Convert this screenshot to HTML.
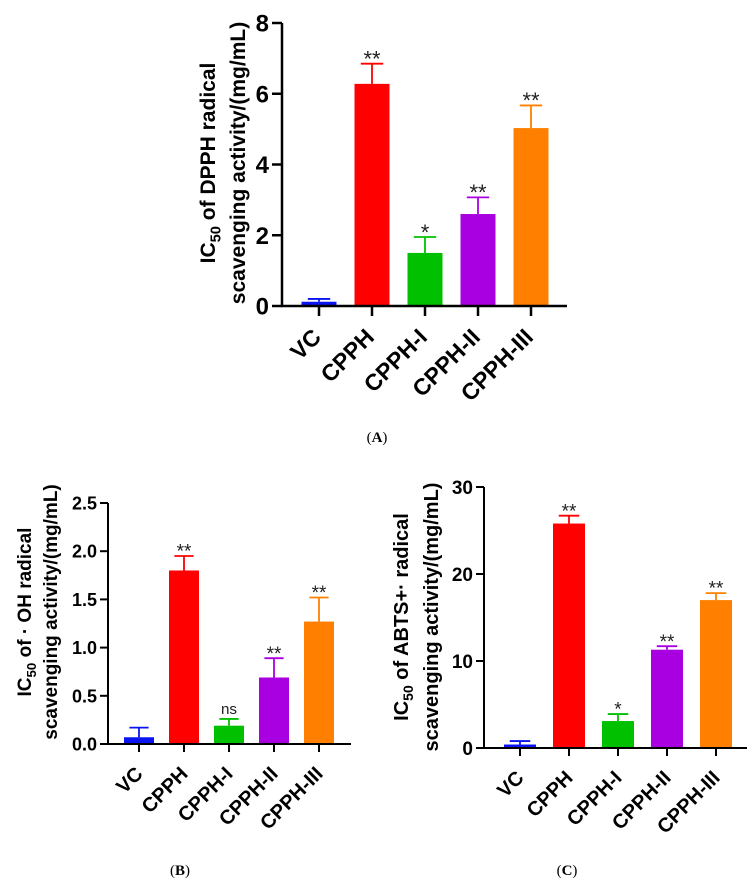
<!DOCTYPE html>
<html><head><meta charset="utf-8"><style>
html,body{margin:0;padding:0;background:#fff;}
svg{display:block;font-family:"Liberation Sans",Arial,sans-serif;}
</style></head><body>
<svg id="chart" width="754" height="885" viewBox="0 0 754 885" xmlns="http://www.w3.org/2000/svg"></svg>
<script>
const categories = ["VC","CPPH","CPPH-I","CPPH-II","CPPH-III"];
const colors = ["#0a14f0","#ff0000","#00c000","#a800e0","#ff8000"];
const valuesA = [0.12, 6.28, 1.5, 2.6, 5.03];
const errorsA = [0.2, 6.85, 1.95, 3.07, 5.67];
const sigA = ["", "**", "*", "**", "**"];
const ticksA = [0, 2, 4, 6, 8];
const tickLabelsA = ["0","2","4","6","8"];
const valuesB = [0.07, 1.8, 0.19, 0.69, 1.27];
const errorsB = [0.17, 1.95, 0.26, 0.89, 1.52];
const sigB = ["", "**", "ns", "**", "**"];
const ticksB = [0, 0.5, 1.0, 1.5, 2.0, 2.5];
const tickLabelsB = ["0.0","0.5","1.0","1.5","2.0","2.5"];
const valuesC = [0.4, 25.8, 3.1, 11.3, 17.0];
const errorsC = [0.8, 26.7, 3.9, 11.7, 17.8];
const sigC = ["", "**", "*", "**", "**"];
const ticksC = [0, 10, 20, 30];
const tickLabelsC = ["0","10","20","30"];

const NS = "http://www.w3.org/2000/svg";
const svg = document.getElementById("chart");
function mk(tag, attrs, parent){ const e=document.createElementNS(NS,tag); for(const k in attrs) e.setAttribute(k,attrs[k]); (parent||svg).appendChild(e); return e; }

function panel(p, vals, errs, sig, ticks, tlabels){
  const g = mk("g",{});
  
  
  const y = v => p.y0 - (v - p.min)/(p.max - p.min)*(p.y0 - p.y1);
  const x = i => p.c0 + i*p.step;
  vals.forEach((v,i)=>{
    const r = mk("rect",{x:x(i)-p.bw/2, y:y(v), width:p.bw, height:p.y0-y(v), fill:colors[i]}, g);
    
    
    const ey = y(errs[i]);
    const eb = mk("path",{d:`M${x(i)},${y(v)}V${ey}M${x(i)-p.bw*0.32},${ey}H${x(i)+p.bw*0.32}`, stroke:colors[i], "stroke-width":1.8, fill:"none"}, g);
    
    
    if(sig[i]){
      const isNs = sig[i]==="ns";
      const t = mk("text",{x:x(i), y:isNs ? ey-5 : ey-6+0.4*p.sigFs, "text-anchor":"middle", "font-size":isNs?p.sigFs*0.8:p.sigFs, fill:"#222"}, g);
      t.textContent = sig[i];
      
      
    }
    const tk = mk("line",{x1:x(i),x2:x(i),y1:p.y0,y2:p.y0+p.tick, stroke:"#000","stroke-width":p.lw}, g);
    
    
    const lx = x(i)+15-0.5*p.fs, ly = p.y0+21+0.5*p.fs;
    const lab = mk("text",{x:lx, y:ly, "text-anchor":"end", "font-size":p.fs, "font-weight":"bold", transform:`rotate(-45 ${lx} ${ly})`}, g);
    lab.textContent = categories[i];
    
    
  });
  const ax = mk("path",{d:`M${p.ax},${y(p.max)}V${p.y0}H${p.xend}`, stroke:"#000","stroke-width":p.lw, fill:"none"}, g);
  
  
  ticks.forEach((t,i)=>{
    const l = mk("line",{x1:p.ax-p.tick,x2:p.ax,y1:y(t),y2:y(t),stroke:"#000","stroke-width":p.lw}, g);
    
    
    const tx = mk("text",{x:p.ax-p.tick-3, y:y(t)+p.tfs*0.36, "text-anchor":"end","font-size":p.tfs,"font-weight":"bold"}, g);
    tx.textContent = tlabels[i];
    
    
  });
  p.title.forEach((ln,i)=>{
    const tx = p.titleX[i], ty = p.titleY;
    const t = mk("text",{x:tx, y:ty, "text-anchor":"middle","font-size":p.titleFs,"font-weight":"bold", transform:`rotate(-90 ${tx} ${ty})`}, g);
    if(i===0){
      t.appendChild(document.createTextNode("IC"));
      const s = mk("tspan",{"font-size":p.titleFs*0.7, dy:p.titleFs*0.25}, t); s.textContent="50";
      const r = mk("tspan",{dy:-p.titleFs*0.25}, t); r.textContent = ln;
    } else t.textContent = ln;
    
    
  });
  const cap = mk("text",{x:p.capX, y:p.capY, "text-anchor":"middle","font-size":15,"font-family":"Liberation Serif,serif"}, g);
  cap.innerHTML = '(<tspan font-weight="bold">'+p.id.toUpperCase()+'</tspan>)';
  
  
}

panel({id:"a", min:0, max:8, y0:306, y1:23, ax:282, xend:567, c0:319, step:53, bw:35, tick:10, lw:2.5, fs:23, tfs:24, sigFs:22,
  title:[" of  DPPH radical","scavenging activity/(mg/mL)"], titleX:[215,245], titleY:163, titleFs:21, capX:377, capY:442},
  valuesA, errorsA, sigA, ticksA, tickLabelsA);
panel({id:"b", min:0, max:2.5, y0:744, y1:503, ax:108, xend:351, c0:139, step:45, bw:30, tick:8, lw:2, fs:20, tfs:18, sigFs:19,
  title:[" of \u00b7 OH radical","scavenging activity/(mg/mL)"], titleX:[31,57], titleY:612, titleFs:19, capX:180, capY:875},
  valuesB, errorsB, sigB, ticksB, tickLabelsB);
panel({id:"c", min:0, max:30, y0:748, y1:487, ax:484, xend:747, c0:520, step:49, bw:32, tick:8, lw:2, fs:20, tfs:19, sigFs:19,
  title:[" of ABTS+\u00b7 radical","scavenging activity/(mg/mL)"], titleX:[408,438], titleY:617, titleFs:20, capX:567, capY:875},
  valuesC, errorsC, sigC, ticksC, tickLabelsC);
</script>
</body></html>
